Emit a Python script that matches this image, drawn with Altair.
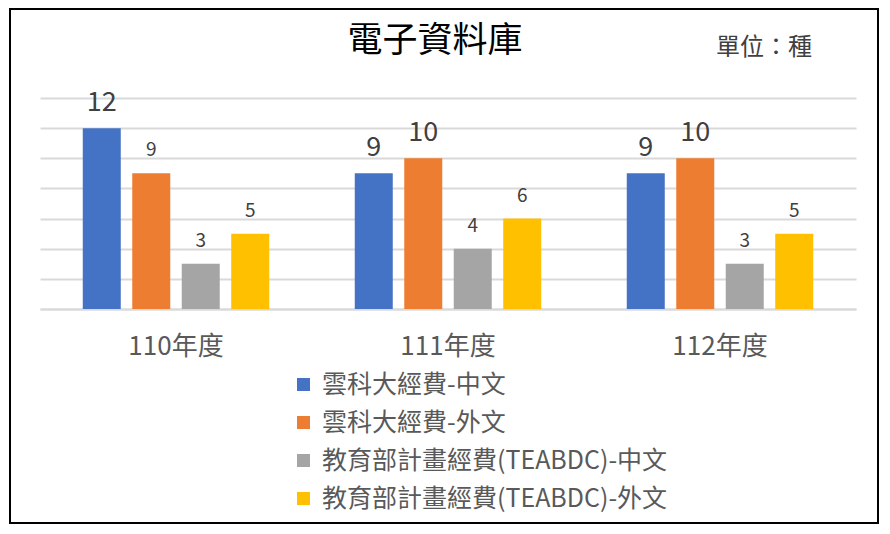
import altair as alt
import pandas as pd

# ---- data ----
years = ["110年度", "111年度", "112年度"]
series = [
    "雲科大經費-中文",
    "雲科大經費-外文",
    "教育部計畫經費(TEABDC)-中文",
    "教育部計畫經費(TEABDC)-外文",
]
v_yuntech_zh = [12, 9, 9]
v_yuntech_en = [9, 10, 10]
v_moe_zh = [3, 4, 3]
v_moe_en = [5, 6, 5]

# ---- style ----
colors = ["#4472C4", "#ED7D31", "#A5A5A5", "#FFC000"]
big_labels = {(0, 0), (0, 1), (0, 2), (1, 1), (1, 2)}  # (series idx, year idx)
FONT = "Noto Sans CJK TC"

rows = []
for si, vals in enumerate([v_yuntech_zh, v_yuntech_en, v_moe_zh, v_moe_en]):
    for yi, v in enumerate(vals):
        rows.append({
            "year": years[yi],
            "series": series[si],
            "value": v,
            "fs": 27 if (si, yi) in big_labels else 19,
        })
df = pd.DataFrame(rows)

base = alt.Chart(df).encode(
    x=alt.X("year:N", sort=years, title=None,
            scale=alt.Scale(paddingInner=0, paddingOuter=0),
            axis=alt.Axis(labelFontSize=26, labelColor="#595959", labelAngle=0,
                          ticks=False, domain=True, domainColor="#d9d9d9", grid=False,
                          domainWidth=2, labelPadding=24, labelFont=FONT)),
    xOffset=alt.XOffset("series:N", sort=series,
                        scale=alt.Scale(domain=series, paddingInner=0.232, paddingOuter=0.864)),
    y=alt.Y("value:Q", title=None,
            scale=alt.Scale(domain=[0, 14], nice=False),
            axis=alt.Axis(values=list(range(0, 15, 2)), labels=False, ticks=False,
                          domain=False, grid=True, gridColor="#d9d9d9", gridWidth=2)),
)

bars = base.mark_bar().encode(
    color=alt.Color("series:N", sort=series,
                    scale=alt.Scale(domain=series, range=colors),
                    legend=alt.Legend(orient="none", legendX=251, legendY=274,
                                      direction="vertical", title=None,
                                      symbolType="square", symbolSize=169,
                                      symbolStrokeWidth=0, labelFontSize=25,
                                      labelColor="#595959", labelOffset=6,
                                      rowPadding=12, padding=0, labelLimit=0,
                                      labelFont=FONT)),
)

labels = base.mark_text(baseline="alphabetic", dy=-17, color="#404040", font=FONT).encode(
    text=alt.Text("value:Q"),
    size=alt.Size("fs:Q", scale=None, legend=None),
)

one = alt.Chart(pd.DataFrame({"a": [0]}))
title = one.mark_text(text="電子資料庫", fontSize=35, color="#000000", font=FONT,
                      align="center", baseline="middle").encode(
    x=alt.value(395), y=alt.value(-57))
unit = one.mark_text(text="單位：種", fontSize=24, color="#404040", font=FONT,
                     align="center", baseline="middle").encode(
    x=alt.value(724), y=alt.value(-50))
frame = one.mark_rect(filled=False, stroke="#000000", strokeWidth=2).encode(
    x=alt.value(-30), x2=alt.value(838), y=alt.value(-89), y2=alt.value(425))

chart = alt.layer(bars, labels, title, unit, frame).properties(
    width=816, height=211,
    autosize=alt.AutoSizeParams(type="none"),
    padding={"left": 32, "top": 90, "right": 26, "bottom": 216},
).configure(font=FONT).configure_view(stroke=None, strokeWidth=0)

chart.save("out.html", embed_options={"renderer": "svg", "actions": False})
